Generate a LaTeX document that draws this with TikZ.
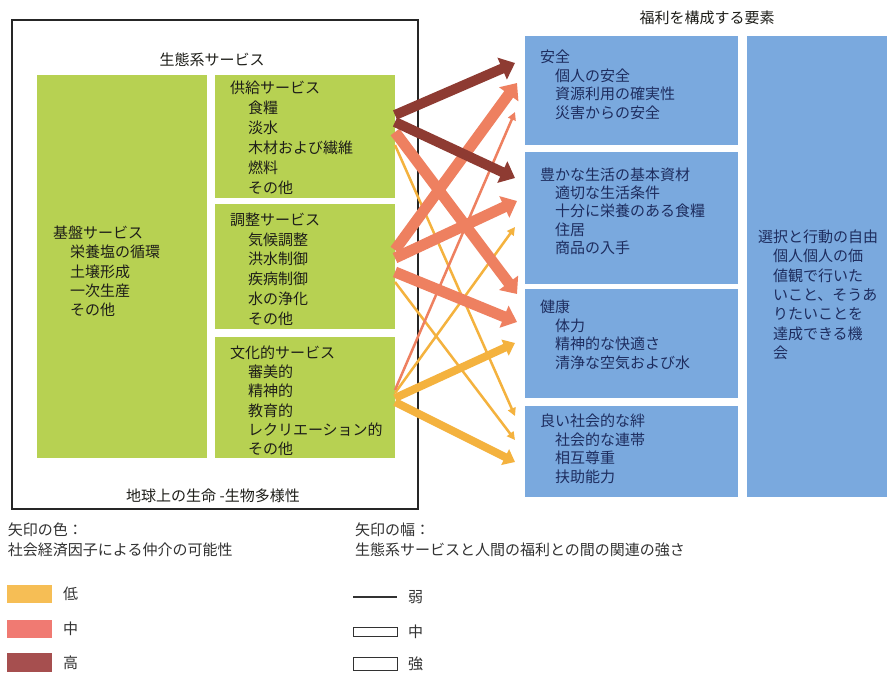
\documentclass[tikz,border=0pt]{standalone}
\usepackage{fontspec}
\newfontfamily\jp{Noto Sans CJK JP}
\usetikzlibrary{arrows.meta}
\definecolor{gfill}{RGB}{183,209,82}
\definecolor{bfill}{RGB}{122,169,222}
\definecolor{btext}{RGB}{30,45,95}
\definecolor{gtext}{RGB}{30,30,25}
\definecolor{ltext}{RGB}{50,50,50}
\definecolor{ylw}{RGB}{244,178,62}
\definecolor{slm}{RGB}{238,128,96}
\definecolor{drk}{RGB}{142,59,50}
\definecolor{lgl}{RGB}{246,190,85}
\definecolor{lgm}{RGB}{240,122,114}
\definecolor{lgh}{RGB}{166,79,79}
\newcommand{\ind}[1]{\hspace*{#1pt}}
\begin{document}
\begin{tikzpicture}[x=1pt,y=-1pt,
  every node/.style={inner sep=0pt,outer sep=0pt},
  gbox/.style={fill=gfill,anchor=north west},
  bbox/.style={fill=bfill,anchor=north west},
  txt/.style={font=\jp\fontsize{15}{#1}\selectfont,align=left,anchor=base west},
  gtxt/.style={txt=#1,text=gtext},
  btxt/.style={txt=#1,text=btext},
  ltxt/.style={txt=20,text=ltext},
  strong/.style={line width=11pt,-{Triangle[width=23pt,length=14pt]}},
  medium/.style={line width=8pt,-{Triangle[width=17pt,length=11pt]}},
  weak/.style={line width=2.5pt,-{Triangle[width=8pt,length=8pt]}}
]
\useasboundingbox (0,0) rectangle (887,675);
\fill[white] (0,0) rectangle (887,675);

% frame
\node[draw=black!85,line width=1.8pt,minimum width=406pt,minimum height=489pt,anchor=north west] (frame) at (12,20) {};
\node[txt=20,text=gtext,anchor=base] (estitle) at (212,65.5) {生態系サービス};
\node[txt=20,text=gtext,anchor=base] (life) at (213,501.5) {地球上の生命 -生物多様性};

% green boxes
\node[gbox,minimum width=170pt,minimum height=383pt] (base) at (37,75) {};
\node[gbox,minimum width=180pt,minimum height=123pt] (prov) at (215,75) {};
\node[gbox,minimum width=180pt,minimum height=125pt] (reg) at (215,204) {};
\node[gbox,minimum width=180pt,minimum height=121pt] (cult) at (215,337) {};

% multi-line texts: anchored at the baseline of their last line
\node[gtxt=19.3] (baset) at (53,315.7) {基盤サービス\\\ind{17}栄養塩の循環\\\ind{17}土壌形成\\\ind{17}一次生産\\\ind{17}その他};
\node[gtxt=20] (provt) at (230,193.5) {供給サービス\\\ind{18}食糧\\\ind{18}淡水\\\ind{18}木材および繊維\\\ind{18}燃料\\\ind{18}その他};
\node[gtxt=19.7] (regt) at (230,324) {調整サービス\\\ind{18}気候調整\\\ind{18}洪水制御\\\ind{18}疾病制御\\\ind{18}水の浄化\\\ind{18}その他};
\node[gtxt=19.2] (cultt) at (230,454.5) {文化的サービス\\\ind{18}審美的\\\ind{18}精神的\\\ind{18}教育的\\\ind{18}レクリエーション的\\\ind{18}その他};

% blue boxes
\node[txt=20,text=gtext,anchor=base] (wbtitle) at (707,23.5) {福利を構成する要素};
\node[bbox,minimum width=213pt,minimum height=109pt] (sec) at (525,36) {};
\node[bbox,minimum width=213pt,minimum height=132pt] (basic) at (525,152) {};
\node[bbox,minimum width=213pt,minimum height=109pt] (health) at (525,289) {};
\node[bbox,minimum width=213pt,minimum height=91pt] (social) at (525,406) {};
\node[bbox,minimum width=140pt,minimum height=461pt] (free) at (747,36) {};

\node[btxt=18.7] (sect) at (540,118.6) {安全\\\ind{15}個人の安全\\\ind{15}資源利用の確実性\\\ind{15}災害からの安全};
\node[btxt=18.2] (basict) at (540,253.3) {豊かな生活の基本資材\\\ind{15}適切な生活条件\\\ind{15}十分に栄養のある食糧\\\ind{15}住居\\\ind{15}商品の入手};
\node[btxt=18.7] (healtht) at (540,368.6) {健康\\\ind{15}体力\\\ind{15}精神的な快適さ\\\ind{15}清浄な空気および水};
\node[btxt=18.5] (socialt) at (540,482) {良い社会的な絆\\\ind{15}社会的な連帯\\\ind{15}相互尊重\\\ind{15}扶助能力};
\node[btxt=19.3] (freet) at (758,358.3) {選択と行動の自由\\\ind{15}個人個人の価\\\ind{15}値観で行いた\\\ind{15}いこと、そうあ\\\ind{15}りたいことを\\\ind{15}達成できる機\\\ind{15}会};

% arrows: low mediation (yellow)
\draw[weak,draw=ylw,fill=ylw] ([yshift=-70pt]prov.north east) -- ([xshift=-10pt,yshift=-10pt]social.north west);
\draw[weak,draw=ylw,fill=ylw] ([yshift=-78pt]reg.north east) -- ([xshift=-10pt,yshift=-34pt]social.north west);
\draw[weak,draw=ylw,fill=ylw] ([yshift=-56pt]cult.north east) -- ([xshift=-10pt,yshift=-75pt]basic.north west);
\draw[medium,draw=ylw,fill=ylw] ([yshift=-61pt]cult.north east) -- ([xshift=-10pt,yshift=-54pt]health.north west);
\draw[medium,draw=ylw,fill=ylw] ([yshift=-65pt]cult.north east) -- ([xshift=-10pt,yshift=-56pt]social.north west);
% medium mediation (salmon)
\draw[weak,draw=slm,fill=slm] ([yshift=-53pt]cult.north east) -- ([xshift=-10pt,yshift=-76pt]sec.north west);
\draw[strong,draw=slm,fill=slm] ([yshift=-57pt]prov.north east) -- ([xshift=-8pt,yshift=-5pt]health.north west);
\draw[strong,draw=slm,fill=slm] ([yshift=-46pt]reg.north east) -- ([xshift=-8pt,yshift=-47pt]sec.north west);
\draw[strong,draw=slm,fill=slm] ([yshift=-54pt]reg.north east) -- ([xshift=-8pt,yshift=-49pt]basic.north west);
\draw[strong,draw=slm,fill=slm] ([yshift=-68pt]reg.north east) -- ([xshift=-8pt,yshift=-33pt]health.north west);
% high mediation (dark)
\draw[strong,line width=10pt,draw=drk,fill=drk] ([yshift=-40pt]prov.north east) -- ([xshift=-10pt,yshift=-27pt]sec.north west);
\draw[strong,line width=10pt,draw=drk,fill=drk] ([yshift=-47pt]prov.north east) -- ([xshift=-10pt,yshift=-26pt]basic.north west);

% legend
\node[ltxt] (colt) at (8,555.5) {矢印の色：\\社会経済因子による仲介の可能性};
\node[ltxt] (widt) at (355,555.5) {矢印の幅：\\生態系サービスと人間の福利との間の関連の強さ};
\node[fill=lgl,minimum width=45pt,minimum height=18pt,anchor=north west] (lowbox) at (7,585) {};
\node[fill=lgm,minimum width=45pt,minimum height=18pt,anchor=north west] (midbox) at (7,620) {};
\node[fill=lgh,minimum width=45pt,minimum height=19pt,anchor=north west] (highbox) at (7,653) {};
\node[ltxt] (lowt) at (63,599.5) {低};
\node[ltxt] (midt) at (63,634.5) {中};
\node[ltxt] (hight) at (63,668.5) {高};
\coordinate (wl1) at (353,597);
\coordinate (wl2) at (397,597);
\draw[line width=2.5pt,ltext] (wl1) -- (wl2);
\node[draw=ltext,line width=1pt,minimum width=44pt,minimum height=9pt,anchor=north west] (medrect) at (353,627) {};
\node[draw=ltext,line width=1pt,minimum width=44pt,minimum height=13pt,anchor=north west] (strrect) at (353,657) {};
\node[ltxt] (weakt) at (408,602.5) {弱};
\node[ltxt] (medt) at (408,637.5) {中};
\node[ltxt] (strt) at (408,669.5) {強};
\end{tikzpicture}
\end{document}
